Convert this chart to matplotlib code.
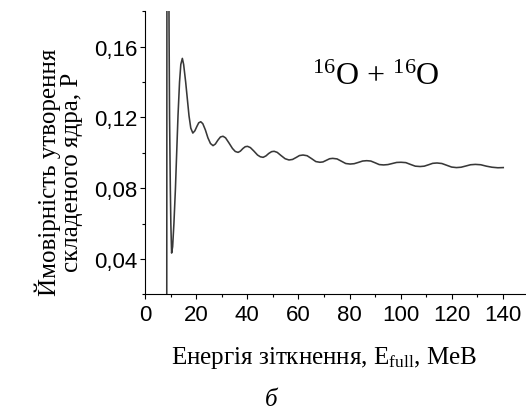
import matplotlib
matplotlib.use("Agg")
import matplotlib.pyplot as plt
from matplotlib.ticker import MultipleLocator, FuncFormatter

# Ймовірність утворення складеного ядра для 16O + 16O
energy = [8.5, 8.6, 9.0, 9.2, 9.4, 9.6, 9.9, 10.1, 10.4, 10.8, 11.3, 11.9,
          12.3, 12.9, 13.5, 14.0, 14.6, 15.1, 15.9, 17.2, 17.9, 18.7,
          19.5, 20.3, 21.0, 21.8, 22.6, 23.6, 24.6, 25.6, 26.6, 27.5, 28.5,
          29.5, 30.5, 31.5, 32.8, 34.2, 35.3, 36.4, 37.3, 38.3, 39.2, 40.1,
          41.2, 42.6, 44.0, 45.1, 46.2, 47.3, 48.4, 49.5, 50.5, 51.7, 53.2,
          54.8, 56.3, 57.7, 59.1, 60.4, 61.8, 63.4, 65.1, 66.8, 68.4, 69.6,
          70.9, 72.2, 73.4, 75.1, 76.8, 78.5, 80.2, 81.8, 83.4, 85.1, 86.7,
          88.3, 90.0, 91.6, 93.3, 95.0, 96.7, 98.4, 100.1, 102.0, 103.8,
          105.7, 107.6, 109.2, 110.9, 112.5, 114.2, 116.1, 118.0, 119.9,
          121.8, 123.6, 125.5, 127.3, 129.2, 131.3, 133.5, 135.7, 138.0, 140.1]
prob = [0.0, 0.30, 0.35, 0.25, 0.17, 0.120, 0.080, 0.060, 0.0434, 0.047,
        0.060, 0.080, 0.0966, 0.121, 0.140, 0.150, 0.1534, 0.150, 0.140,
        0.121, 0.1140, 0.1112,
        0.1125, 0.1150, 0.1170, 0.1176, 0.1165, 0.1130, 0.1085, 0.1053,
        0.1041, 0.1050, 0.1072, 0.1090, 0.1094, 0.1085, 0.1057, 0.1025,
        0.1008, 0.1003, 0.1010, 0.1025, 0.1035, 0.1037, 0.1030, 0.1010,
        0.0988, 0.0978, 0.0975, 0.0983, 0.0997, 0.1007, 0.1009, 0.1003,
        0.0985, 0.0967, 0.0960, 0.0963, 0.0974, 0.0985, 0.0988, 0.0984,
        0.0968, 0.0951, 0.0947, 0.0949, 0.0958, 0.0967, 0.0969, 0.0966,
        0.0953, 0.0940, 0.0937, 0.0939, 0.0946, 0.0954, 0.0956, 0.0954,
        0.0944, 0.0934, 0.0932, 0.0934, 0.0940, 0.0946, 0.0947, 0.0945,
        0.0935, 0.0925, 0.0923, 0.0925, 0.0933, 0.0941, 0.0943, 0.0940,
        0.0930, 0.0920, 0.0917, 0.0919, 0.0926, 0.0933, 0.0935, 0.0933,
        0.0925, 0.0919, 0.0916, 0.0917]

x_major = [0, 20, 40, 60, 80, 100, 120, 140]
y_major = [0.04, 0.08, 0.12, 0.16]

plt.rcParams['font.family'] = ['Liberation Sans', 'DejaVu Sans']
plt.rcParams['mathtext.fontset'] = 'custom'
plt.rcParams['mathtext.rm'] = 'Liberation Serif'
plt.rcParams['mathtext.it'] = 'Liberation Serif:italic'

fig = plt.figure(figsize=(5.26, 4.10), dpi=100)
ax = fig.add_axes([0.2757, 0.2793, 0.7243, 0.6907])

ax.plot(energy, prob, color='#383838', lw=1.15)

ax.set_xlim(0, 149)
ax.set_ylim(0.02, 0.18)
ax.set_xticks(x_major)
ax.set_yticks(y_major)
ax.xaxis.set_minor_locator(MultipleLocator(10))
ax.yaxis.set_minor_locator(MultipleLocator(0.02))
ax.yaxis.set_major_formatter(FuncFormatter(lambda v, p: f"{v:.2f}".replace('.', ',')))

for s in ['top', 'right']:
    ax.spines[s].set_visible(False)
for s in ['left', 'bottom']:
    ax.spines[s].set_linewidth(0.8)
ax.tick_params(which='major', direction='out', length=3.5, width=0.8,
               labelsize=16)
ax.tick_params(axis='x', which='major', pad=3)
ax.tick_params(axis='y', which='major', pad=2)
ax.tick_params(which='minor', direction='out', length=2, width=0.8)

serif = ['Liberation Serif', 'DejaVu Serif']
fig.text(0.111, 0.580, 'Ймовірність утворення\nскладеного ядра, P',
         rotation=90, ha='center', va='center', multialignment='center',
         fontsize=18, family=serif, linespacing=1.0)
fig.text(0.616, 0.127, r'Енергія зіткнення, E$_{\mathrm{full}}$, МеВ',
         ha='center', va='center', fontsize=18, family=serif)
fig.text(0.5165, 0.024, 'б', ha='center', va='center', fontsize=18,
         family=serif, style='italic')
fig.text(0.714, 0.793, r'$^{16}$O + $^{16}$O', ha='center', va='baseline',
         fontsize=23, family=serif)

plt.savefig('out.png', dpi=100)
